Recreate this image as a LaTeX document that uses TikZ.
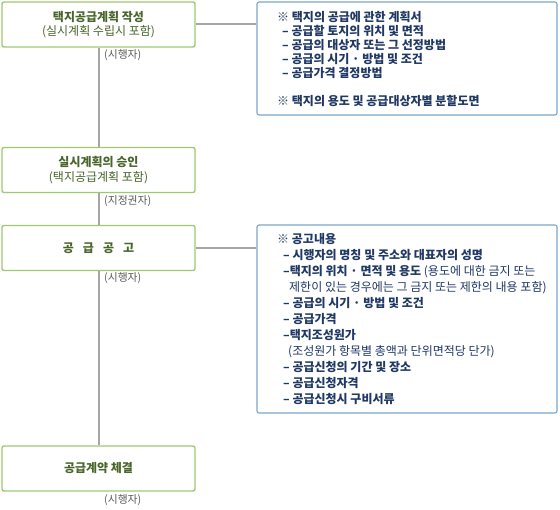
\documentclass[tikz,border=0pt]{standalone}
\usepackage{fontspec}
\newfontfamily\kr{Noto Sans CJK KR}
\usepackage{tikz}
\usetikzlibrary{positioning, calc}
\definecolor{cGreenLine}{RGB}{160,200,112}
\definecolor{cGreenText}{RGB}{72,102,42}
\definecolor{cBlueLine}{RGB}{122,166,202}
\definecolor{cBlueText}{RGB}{32,56,100}
\definecolor{cGrayLine}{RGB}{166,166,166}
\definecolor{cWho}{RGB}{90,90,90}

\begin{document}
\begin{tikzpicture}[x=1pt, y=-1pt,
            proc/.style={draw=cGreenLine, line width=1.4pt, rounded corners=2pt, fill=white,
                minimum width=193pt, minimum height=45pt, inner sep=0pt, align=center,
                text=cGreenText, font=\kr\fontsize{12}{14.5}\selectfont},
            note/.style={draw=cBlueLine, line width=1.1pt, rounded corners=2pt, fill=white,
                minimum width=300pt, inner sep=0pt},
            notetext/.style={anchor=west, align=left, inner sep=0pt, text=cBlueText},
            who/.style={anchor=north west, inner sep=0pt, text=cWho, font=\kr\fontsize{10.8}{12}\selectfont},
            ln/.style={draw=cGrayLine, line width=2pt}]
            \useasboundingbox (0,0) rectangle (560,510);
            % steps on the left
            \node[proc] (plan)    at (98.5,24.5) {\textbf{택지공급계획 작성}\\(실시계획 수립시 포함)};
            \node[proc] (approve) at (98.5,170)  {\textbf{실시계획의 승인}\\(택지공급계획 포함)};
            \node[proc] (notice)  at (98.5,248)  {\textbf{공\hspace{9pt}급\hspace{9pt}공\hspace{9pt}고}};
            \node[proc] (contract) at (98.5,468.5) {\textbf{공급계약 체결}};
            \node[who] (whoA) at (104,49)  {(시행자)};
            \node[who] (whoB) at (104,195) {(지정권자)};
            \node[who] (whoC) at (104,272) {(시행자)};
            \node[who] (whoD) at (104,494) {(시행자)};
            % notes on the right
            \node[note, minimum height=113pt] (planNote)   at (407,58.5) {};
            \node[note, minimum height=188pt] (noticeNote) at (407,319)  {};
            \node[notetext, font=\kr\bfseries\fontsize{12}{14}\selectfont] (planText) at (277,58.5)
                {※\ 택지의 공급에 관한 계획서\\
                 \hspace*{5pt}– 공급할 토지의 위치 및 면적\\
                 \hspace*{5pt}– 공급의 대상자 또는 그 선정방법\\
                 \hspace*{5pt}– 공급의 시기 · 방법 및 조건\\
                 \hspace*{5pt}– 공급가격 결정방법\\[14pt]
                 ※\ 택지의 용도 및 공급대상자별 분할도면};
            \node[notetext, font=\kr\fontsize{12}{16}\selectfont] (noticeText) at (277,319)
                {\textbf{※\ 공고내용}\\
                 \hspace*{6pt}\textbf{– 시행자의 명칭 및 주소와 대표자의 성명}\\
                 \hspace*{6pt}\textbf{–택지의 위치 · 면적 및 용도} (용도에 대한 금지 또는\\
                 \hspace*{12pt}제한이 있는 경우에는 그 금지 또는 제한의 내용 포함)\\
                 \hspace*{6pt}\textbf{– 공급의 시기 · 방법 및 조건}\\
                 \hspace*{6pt}\textbf{– 공급가격}\\
                 \hspace*{6pt}\textbf{–택지조성원가}\\
                 \hspace*{11pt}(조성원가 항목별 총액과 단위면적당 단가)\\
                 \hspace*{6pt}\textbf{– 공급신청의 기간 및 장소}\\
                 \hspace*{6pt}\textbf{– 공급신청자격}\\
                 \hspace*{6pt}\textbf{– 공급신청시 구비서류}};
            % connectors
            \draw[ln] (plan.south) -- (approve.north);
            \draw[ln] (approve.south) -- (notice.north);
            \draw[ln] (notice.south) -- (contract.north);
            \draw[ln] (plan.east) -- (planNote.west |- plan.east);
            \draw[ln] (notice.east) -- (noticeNote.west |- notice.east);
        \end{tikzpicture}
\end{document}
